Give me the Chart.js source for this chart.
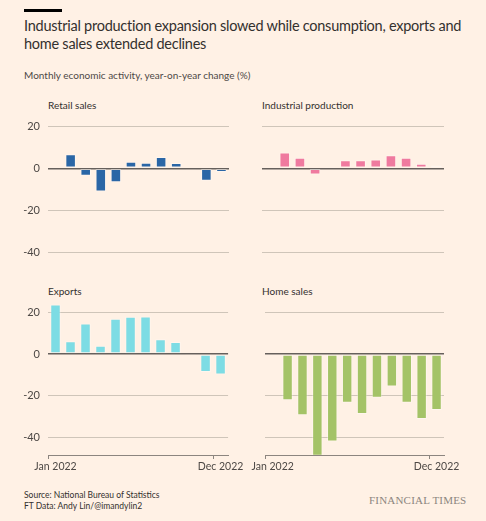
<!DOCTYPE html>
<html>
<head>
<meta charset="utf-8">
<script src="https://cdn.jsdelivr.net/npm/chart.js@4"></script>
<style>
  body { margin: 0; background: #fff1e5; font-family: Lato, sans-serif; }
  #wrap { position: relative; width: 486px; height: 521px; background: #fff1e5; overflow: hidden; }
  .bar { position: absolute; left: 24px; top: 9px; width: 38px; height: 3px; background: #000; }
  .title { position: absolute; left: 24px; top: 17px; width: 445px; font-size: 14.5px; line-height: 18px; letter-spacing: -0.25px; color: #33302e; }
  .sub { position: absolute; left: 24px; top: 69px; font-size: 10px; color: #4d4845; }
  .ptitle { position: absolute; font-size: 10px; color: #33302e; }
  .src { position: absolute; left: 24px; top: 490px; font-size: 8.5px; line-height: 11px; color: #33302e; }
  .ft { position: absolute; left: 369px; top: 494px; font-family: "Liberation Serif", serif; font-size: 11px; color: #8c857f; letter-spacing: 0.2px; }
  canvas { position: absolute; }
</style>
</head>
<body>
<div id="wrap">
  <div class="bar"></div>
  <div class="title">Industrial production expansion slowed while consumption, exports and home sales extended declines</div>
  <div class="sub">Monthly economic activity, year-on-year change (%)</div>

  <div class="ptitle" style="left:48px; top:99px;">Retail sales</div>
  <div class="ptitle" style="left:262px; top:99px;">Industrial production</div>
  <div class="ptitle" style="left:48px; top:285px;">Exports</div>
  <div class="ptitle" style="left:262px; top:285px;">Home sales</div>

  <canvas id="retail" style="left:0px; top:108px;" width="245" height="170"></canvas>
  <canvas id="industrial" style="left:250px; top:108px;" width="215" height="170"></canvas>
  <canvas id="exports" style="left:0px; top:294px;" width="245" height="181"></canvas>
  <canvas id="home" style="left:250px; top:294px;" width="215" height="181"></canvas>

  <div class="src">Source: National Bureau of Statistics<br>FT Data: Andy Lin/@imandylin2</div>
  <div class="ft">FINANCIAL TIMES</div>
</div>
<script>
var months = ['Jan 2022', 'Feb 2022', 'Mar 2022', 'Apr 2022', 'May 2022', 'Jun 2022',
              'Jul 2022', 'Aug 2022', 'Sep 2022', 'Oct 2022', 'Nov 2022', 'Dec 2022'];
var retail = [null, 6.7, -3.5, -11.1, -6.7, 3.1, 2.7, 5.4, 2.5, -0.5, -5.9, -1.8];
var industrial = [null, 7.5, 5.0, -2.9, 0.7, 3.9, 3.8, 4.2, 6.3, 5.0, 2.2, 1.3];
var exportsData = [23.8, 6.1, 14.7, 3.9, 16.9, 17.9, 18.0, 7.1, 5.7, -0.3, -8.7, -9.9];
var homeSales = [null, -22.3, -29.5, -49.0, -42.1, -23.5, -28.9, -21.0, -15.6, -23.5, -31.3, -26.9];
var yTicks = [20, 0, -20, -40];
var shownLabels = ['Jan 2022', 'Dec 2022'];

function makeChart(id, values, color, showY, showX) {
  var cnv = document.getElementById(id);
  return new Chart(cnv, {
    type: 'bar',
    data: {
      labels: months,
      datasets: [{
        data: values,
        backgroundColor: color,
        borderColor: 'rgba(255,255,255,0.35)',
        borderWidth: 1,
        borderSkipped: false,
        barPercentage: 0.7,
        categoryPercentage: 1
      }]
    },
    options: {
      responsive: false,
      animation: false,
      events: [],
      layout: {
        // top row has no x axis, so leave room below for the y labels
        padding: { top: 8, bottom: showX ? 0 : 8, left: 0, right: showY ? 16 : 21 }
      },
      plugins: { legend: { display: false }, tooltip: { enabled: false } },
      scales: {
        x: {
          display: showX,
          grid: {
            drawOnChartArea: false,
            drawTicks: true,
            tickLength: 4,
            color: function (c) {
              return shownLabels.indexOf(months[c.index]) >= 0 ? '#8c857f' : 'rgba(0,0,0,0)';
            }
          },
          border: { display: true, color: '#8c857f', width: 1 },
          ticks: {
            autoSkip: false,
            maxRotation: 0,
            padding: 1,
            color: '#4d4845',
            font: { family: 'Lato', size: 10.5 },
            callback: function (v, i) {
              return shownLabels.indexOf(months[i]) >= 0 ? months[i] : '';
            }
          },
          afterFit: function (s) { s.height = showX ? 20 : 0; }
        },
        y: {
          min: -48.6,
          max: 25,
          afterBuildTicks: function (s) {
            s.ticks = yTicks.map(function (v) { return { value: v }; });
          },
          grid: {
            // invisible tick marks push the labels left without adding top/bottom padding
            drawTicks: true,
            tickLength: 8,
            tickColor: 'rgba(0,0,0,0)',
            color: function (c) { return c.tick && c.tick.value === 0 ? '#66605c' : '#cfc5b9'; },
            lineWidth: function (c) { return c.tick && c.tick.value === 0 ? 1.5 : 1; }
          },
          border: { display: false },
          ticks: {
            display: showY,
            padding: 0,
            color: '#4d4845',
            font: { family: 'Lato', size: 11 }
          },
          afterFit: function (s) { s.width = showY ? 48 : 12; }
        }
      }
    }
  });
}

makeChart('retail', retail, '#2a66a6', true, false);
makeChart('industrial', industrial, '#ef7a9f', false, false);
makeChart('exports', exportsData, '#7ddce4', true, true);
makeChart('home', homeSales, '#a4c367', false, true);
</script>
</body>
</html>
